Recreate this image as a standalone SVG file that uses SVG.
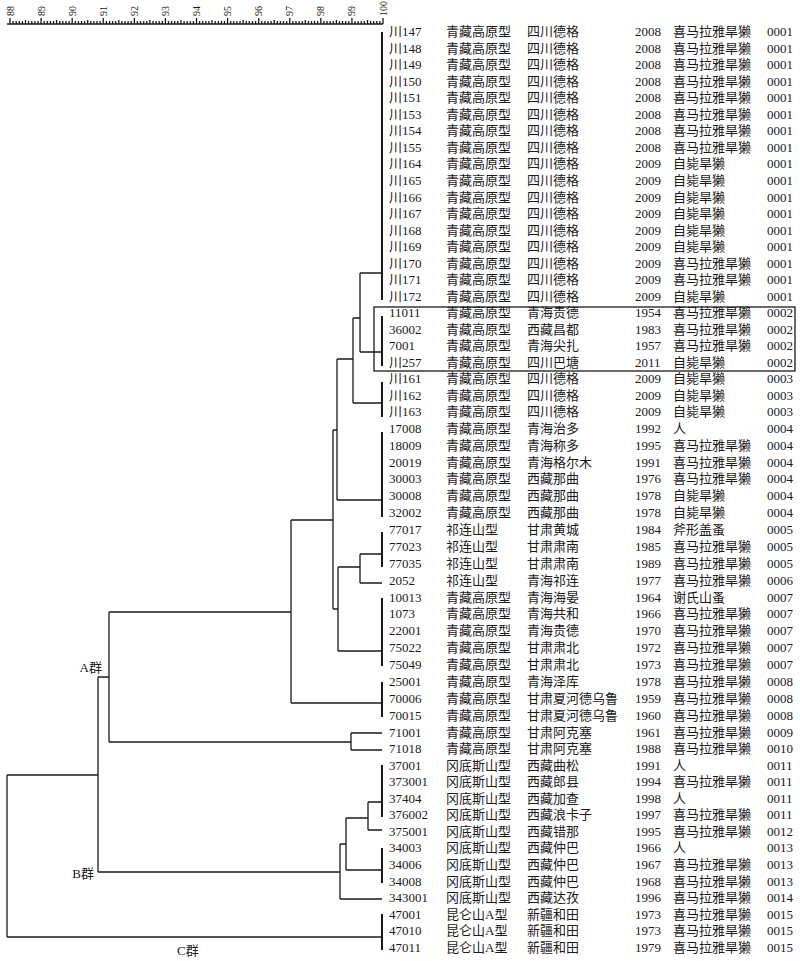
<svg xmlns="http://www.w3.org/2000/svg" width="800" height="961" viewBox="0 0 800 961">
<style>
.t{font-family:"Liberation Serif","Noto Sans CJK SC",serif;font-size:13px;fill:#1a1a1a;dominant-baseline:central}
.ax{font-family:"Liberation Serif",serif;font-size:10px;fill:#1a1a1a;dominant-baseline:central}
.ln{stroke:#1a1a1a;stroke-width:1.3;fill:none}
.bar{stroke:#1a1a1a;stroke-width:2;fill:none}
</style>
<rect width="800" height="961" fill="#fff"/>
<g id="axis">
<line class="ln" x1="7" y1="24" x2="383" y2="24"/>
<path class="ln" stroke-width="0.9" d="M10 24v-6M41.08 24v-6M72.17 24v-6M103.25 24v-6M134.33 24v-6M165.42 24v-6M196.5 24v-6M227.58 24v-6M258.67 24v-6M289.75 24v-6M320.83 24v-6M351.92 24v-6M383 24v-6"/>
<path class="ln" stroke-width="0.8" d="M13.1 24v-3M16.2 24v-3M19.3 24v-3M22.4 24v-3M25.5 24v-4M28.6 24v-3M31.8 24v-3M34.9 24v-3M38 24v-3M44.2 24v-3M47.3 24v-3M50.4 24v-3M53.5 24v-3M56.6 24v-4M59.7 24v-3M62.8 24v-3M66 24v-3M69.1 24v-3M75.3 24v-3M78.4 24v-3M81.5 24v-3M84.6 24v-3M87.7 24v-4M90.8 24v-3M93.9 24v-3M97 24v-3M100.1 24v-3M106.4 24v-3M109.5 24v-3M112.6 24v-3M115.7 24v-3M118.8 24v-4M121.9 24v-3M125 24v-3M128.1 24v-3M131.2 24v-3M137.4 24v-3M140.5 24v-3M143.7 24v-3M146.8 24v-3M149.9 24v-4M153 24v-3M156.1 24v-3M159.2 24v-3M162.3 24v-3M168.5 24v-3M171.6 24v-3M174.7 24v-3M177.8 24v-3M181 24v-4M184.1 24v-3M187.2 24v-3M190.3 24v-3M193.4 24v-3M199.6 24v-3M202.7 24v-3M205.8 24v-3M208.9 24v-3M212 24v-4M215.2 24v-3M218.3 24v-3M221.4 24v-3M224.5 24v-3M230.7 24v-3M233.8 24v-3M236.9 24v-3M240 24v-3M243.1 24v-4M246.2 24v-3M249.3 24v-3M252.5 24v-3M255.6 24v-3M261.8 24v-3M264.9 24v-3M268 24v-3M271.1 24v-3M274.2 24v-4M277.3 24v-3M280.4 24v-3M283.5 24v-3M286.6 24v-3M292.9 24v-3M296 24v-3M299.1 24v-3M302.2 24v-3M305.3 24v-4M308.4 24v-3M311.5 24v-3M314.6 24v-3M317.7 24v-3M323.9 24v-3M327 24v-3M330.2 24v-3M333.3 24v-3M336.4 24v-4M339.5 24v-3M342.6 24v-3M345.7 24v-3M348.8 24v-3M355 24v-3M358.1 24v-3M361.2 24v-3M364.3 24v-3M367.5 24v-4M370.6 24v-3M373.7 24v-3M376.8 24v-3M379.9 24v-3"/>
<text class="ax" transform="translate(10,16) rotate(-90)">88</text>
<text class="ax" transform="translate(41.08,16) rotate(-90)">89</text>
<text class="ax" transform="translate(72.17,16) rotate(-90)">90</text>
<text class="ax" transform="translate(103.25,16) rotate(-90)">91</text>
<text class="ax" transform="translate(134.33,16) rotate(-90)">92</text>
<text class="ax" transform="translate(165.42,16) rotate(-90)">93</text>
<text class="ax" transform="translate(196.5,16) rotate(-90)">94</text>
<text class="ax" transform="translate(227.58,16) rotate(-90)">95</text>
<text class="ax" transform="translate(258.67,16) rotate(-90)">96</text>
<text class="ax" transform="translate(289.75,16) rotate(-90)">97</text>
<text class="ax" transform="translate(320.83,16) rotate(-90)">98</text>
<text class="ax" transform="translate(351.92,16) rotate(-90)">99</text>
<text class="ax" transform="translate(383,16) rotate(-90)">100</text>
</g>
<g id="connectors">
<path class="bar" d="M382 32V300M382 316V366M382 382V417M382 432V517M382 532V567M382 598V666M382 682V717M382 765V817M382 848V883M382 914V950"/>
<path class="ln" d="M360 273H382M360 273V352M360 352H382M353 318H360M353 318V403M353 403H382M337 359H353M337 359V500M337 500H382M333 430H337M333 430V609M333 609H338M338 567V651M338 567H360M360 554V583M360 554H382M360 583H382M338 651H382M291 520H333M291 520V703M291 703H382M109 612H291M109 612V742M109 742H351M351 733V750M351 733H382M351 750H382M98 677H109M98 677V872M98 872H340M340 844V899M340 899H382M340 844H346M346 818V870M346 870H382M346 818H368M368 802V830M368 802H382M368 830H382M7 775H98M7 775V937M7 937H382"/>
<rect x="374" y="307" width="421" height="64" fill="none" stroke="#1a1a1a" stroke-width="1.3"/>
</g>
<g id="group-labels">
<text class="t" x="102" y="667" text-anchor="end">A群</text>
<text class="t" x="94" y="873" text-anchor="end">B群</text>
<text class="t" x="177" y="950">C群</text>
</g>
<g id="leaves">
<g id="n1"><text class="t" x="389" y="31.7">川147</text><text class="t" x="446" y="31.7">青藏高原型</text><text class="t" x="527" y="31.7">四川德格</text><text class="t" x="635" y="31.7">2008</text><text class="t" x="673" y="31.7">喜马拉雅旱獭</text><text class="t" x="767" y="31.7">0001</text></g>
<g id="n2"><text class="t" x="389" y="48.2">川148</text><text class="t" x="446" y="48.2">青藏高原型</text><text class="t" x="527" y="48.2">四川德格</text><text class="t" x="635" y="48.2">2008</text><text class="t" x="673" y="48.2">喜马拉雅旱獭</text><text class="t" x="767" y="48.2">0001</text></g>
<g id="n3"><text class="t" x="389" y="64.8">川149</text><text class="t" x="446" y="64.8">青藏高原型</text><text class="t" x="527" y="64.8">四川德格</text><text class="t" x="635" y="64.8">2008</text><text class="t" x="673" y="64.8">喜马拉雅旱獭</text><text class="t" x="767" y="64.8">0001</text></g>
<g id="n4"><text class="t" x="389" y="81.3">川150</text><text class="t" x="446" y="81.3">青藏高原型</text><text class="t" x="527" y="81.3">四川德格</text><text class="t" x="635" y="81.3">2008</text><text class="t" x="673" y="81.3">喜马拉雅旱獭</text><text class="t" x="767" y="81.3">0001</text></g>
<g id="n5"><text class="t" x="389" y="97.8">川151</text><text class="t" x="446" y="97.8">青藏高原型</text><text class="t" x="527" y="97.8">四川德格</text><text class="t" x="635" y="97.8">2008</text><text class="t" x="673" y="97.8">喜马拉雅旱獭</text><text class="t" x="767" y="97.8">0001</text></g>
<g id="n6"><text class="t" x="389" y="114.3">川153</text><text class="t" x="446" y="114.3">青藏高原型</text><text class="t" x="527" y="114.3">四川德格</text><text class="t" x="635" y="114.3">2008</text><text class="t" x="673" y="114.3">喜马拉雅旱獭</text><text class="t" x="767" y="114.3">0001</text></g>
<g id="n7"><text class="t" x="389" y="130.9">川154</text><text class="t" x="446" y="130.9">青藏高原型</text><text class="t" x="527" y="130.9">四川德格</text><text class="t" x="635" y="130.9">2008</text><text class="t" x="673" y="130.9">喜马拉雅旱獭</text><text class="t" x="767" y="130.9">0001</text></g>
<g id="n8"><text class="t" x="389" y="147.4">川155</text><text class="t" x="446" y="147.4">青藏高原型</text><text class="t" x="527" y="147.4">四川德格</text><text class="t" x="635" y="147.4">2008</text><text class="t" x="673" y="147.4">喜马拉雅旱獭</text><text class="t" x="767" y="147.4">0001</text></g>
<g id="n9"><text class="t" x="389" y="163.9">川164</text><text class="t" x="446" y="163.9">青藏高原型</text><text class="t" x="527" y="163.9">四川德格</text><text class="t" x="635" y="163.9">2009</text><text class="t" x="673" y="163.9">自毙旱獭</text><text class="t" x="767" y="163.9">0001</text></g>
<g id="n10"><text class="t" x="389" y="180.4">川165</text><text class="t" x="446" y="180.4">青藏高原型</text><text class="t" x="527" y="180.4">四川德格</text><text class="t" x="635" y="180.4">2009</text><text class="t" x="673" y="180.4">自毙旱獭</text><text class="t" x="767" y="180.4">0001</text></g>
<g id="n11"><text class="t" x="389" y="197">川166</text><text class="t" x="446" y="197">青藏高原型</text><text class="t" x="527" y="197">四川德格</text><text class="t" x="635" y="197">2009</text><text class="t" x="673" y="197">自毙旱獭</text><text class="t" x="767" y="197">0001</text></g>
<g id="n12"><text class="t" x="389" y="213.5">川167</text><text class="t" x="446" y="213.5">青藏高原型</text><text class="t" x="527" y="213.5">四川德格</text><text class="t" x="635" y="213.5">2009</text><text class="t" x="673" y="213.5">自毙旱獭</text><text class="t" x="767" y="213.5">0001</text></g>
<g id="n13"><text class="t" x="389" y="230">川168</text><text class="t" x="446" y="230">青藏高原型</text><text class="t" x="527" y="230">四川德格</text><text class="t" x="635" y="230">2009</text><text class="t" x="673" y="230">自毙旱獭</text><text class="t" x="767" y="230">0001</text></g>
<g id="n14"><text class="t" x="389" y="246.5">川169</text><text class="t" x="446" y="246.5">青藏高原型</text><text class="t" x="527" y="246.5">四川德格</text><text class="t" x="635" y="246.5">2009</text><text class="t" x="673" y="246.5">自毙旱獭</text><text class="t" x="767" y="246.5">0001</text></g>
<g id="n15"><text class="t" x="389" y="263.1">川170</text><text class="t" x="446" y="263.1">青藏高原型</text><text class="t" x="527" y="263.1">四川德格</text><text class="t" x="635" y="263.1">2009</text><text class="t" x="673" y="263.1">喜马拉雅旱獭</text><text class="t" x="767" y="263.1">0001</text></g>
<g id="n16"><text class="t" x="389" y="279.6">川171</text><text class="t" x="446" y="279.6">青藏高原型</text><text class="t" x="527" y="279.6">四川德格</text><text class="t" x="635" y="279.6">2009</text><text class="t" x="673" y="279.6">喜马拉雅旱獭</text><text class="t" x="767" y="279.6">0001</text></g>
<g id="n17"><text class="t" x="389" y="296.1">川172</text><text class="t" x="446" y="296.1">青藏高原型</text><text class="t" x="527" y="296.1">四川德格</text><text class="t" x="635" y="296.1">2009</text><text class="t" x="673" y="296.1">自毙旱獭</text><text class="t" x="767" y="296.1">0001</text></g>
<g id="n18"><text class="t" x="389" y="312.6">11011</text><text class="t" x="446" y="312.6">青藏高原型</text><text class="t" x="527" y="312.6">青海贵德</text><text class="t" x="635" y="312.6">1954</text><text class="t" x="673" y="312.6">喜马拉雅旱獭</text><text class="t" x="767" y="312.6">0002</text></g>
<g id="n19"><text class="t" x="389" y="329.2">36002</text><text class="t" x="446" y="329.2">青藏高原型</text><text class="t" x="527" y="329.2">西藏昌都</text><text class="t" x="635" y="329.2">1983</text><text class="t" x="673" y="329.2">喜马拉雅旱獭</text><text class="t" x="767" y="329.2">0002</text></g>
<g id="n20"><text class="t" x="389" y="345.7">7001</text><text class="t" x="446" y="345.7">青藏高原型</text><text class="t" x="527" y="345.7">青海尖扎</text><text class="t" x="635" y="345.7">1957</text><text class="t" x="673" y="345.7">喜马拉雅旱獭</text><text class="t" x="767" y="345.7">0002</text></g>
<g id="n21"><text class="t" x="389" y="362.2">川257</text><text class="t" x="446" y="362.2">青藏高原型</text><text class="t" x="527" y="362.2">四川巴塘</text><text class="t" x="635" y="362.2">2011</text><text class="t" x="673" y="362.2">自毙旱獭</text><text class="t" x="767" y="362.2">0002</text></g>
<g id="n22"><text class="t" x="389" y="378.7">川161</text><text class="t" x="446" y="378.7">青藏高原型</text><text class="t" x="527" y="378.7">四川德格</text><text class="t" x="635" y="378.7">2009</text><text class="t" x="673" y="378.7">自毙旱獭</text><text class="t" x="767" y="378.7">0003</text></g>
<g id="n23"><text class="t" x="389" y="395.3">川162</text><text class="t" x="446" y="395.3">青藏高原型</text><text class="t" x="527" y="395.3">四川德格</text><text class="t" x="635" y="395.3">2009</text><text class="t" x="673" y="395.3">自毙旱獭</text><text class="t" x="767" y="395.3">0003</text></g>
<g id="n24"><text class="t" x="389" y="411.8">川163</text><text class="t" x="446" y="411.8">青藏高原型</text><text class="t" x="527" y="411.8">四川德格</text><text class="t" x="635" y="411.8">2009</text><text class="t" x="673" y="411.8">自毙旱獭</text><text class="t" x="767" y="411.8">0003</text></g>
<g id="n25"><text class="t" x="389" y="428.3">17008</text><text class="t" x="446" y="428.3">青藏高原型</text><text class="t" x="527" y="428.3">青海治多</text><text class="t" x="635" y="428.3">1992</text><text class="t" x="673" y="428.3">人</text><text class="t" x="767" y="428.3">0004</text></g>
<g id="n26"><text class="t" x="389" y="445.2">18009</text><text class="t" x="446" y="445.2">青藏高原型</text><text class="t" x="527" y="445.2">青海称多</text><text class="t" x="635" y="445.2">1995</text><text class="t" x="673" y="445.2">喜马拉雅旱獭</text><text class="t" x="767" y="445.2">0004</text></g>
<g id="n27"><text class="t" x="389" y="462">20019</text><text class="t" x="446" y="462">青藏高原型</text><text class="t" x="527" y="462">青海格尔木</text><text class="t" x="635" y="462">1991</text><text class="t" x="673" y="462">喜马拉雅旱獭</text><text class="t" x="767" y="462">0004</text></g>
<g id="n28"><text class="t" x="389" y="478.9">30003</text><text class="t" x="446" y="478.9">青藏高原型</text><text class="t" x="527" y="478.9">西藏那曲</text><text class="t" x="635" y="478.9">1976</text><text class="t" x="673" y="478.9">喜马拉雅旱獭</text><text class="t" x="767" y="478.9">0004</text></g>
<g id="n29"><text class="t" x="389" y="495.8">30008</text><text class="t" x="446" y="495.8">青藏高原型</text><text class="t" x="527" y="495.8">西藏那曲</text><text class="t" x="635" y="495.8">1978</text><text class="t" x="673" y="495.8">自毙旱獭</text><text class="t" x="767" y="495.8">0004</text></g>
<g id="n30"><text class="t" x="389" y="512.7">32002</text><text class="t" x="446" y="512.7">青藏高原型</text><text class="t" x="527" y="512.7">西藏那曲</text><text class="t" x="635" y="512.7">1978</text><text class="t" x="673" y="512.7">自毙旱獭</text><text class="t" x="767" y="512.7">0004</text></g>
<g id="n31"><text class="t" x="389" y="529.5">77017</text><text class="t" x="446" y="529.5">祁连山型</text><text class="t" x="527" y="529.5">甘肃黄城</text><text class="t" x="635" y="529.5">1984</text><text class="t" x="673" y="529.5">斧形盖蚤</text><text class="t" x="767" y="529.5">0005</text></g>
<g id="n32"><text class="t" x="389" y="546.4">77023</text><text class="t" x="446" y="546.4">祁连山型</text><text class="t" x="527" y="546.4">甘肃肃南</text><text class="t" x="635" y="546.4">1985</text><text class="t" x="673" y="546.4">喜马拉雅旱獭</text><text class="t" x="767" y="546.4">0005</text></g>
<g id="n33"><text class="t" x="389" y="563.3">77035</text><text class="t" x="446" y="563.3">祁连山型</text><text class="t" x="527" y="563.3">甘肃肃南</text><text class="t" x="635" y="563.3">1989</text><text class="t" x="673" y="563.3">喜马拉雅旱獭</text><text class="t" x="767" y="563.3">0005</text></g>
<g id="n34"><text class="t" x="389" y="580.2">2052</text><text class="t" x="446" y="580.2">祁连山型</text><text class="t" x="527" y="580.2">青海祁连</text><text class="t" x="635" y="580.2">1977</text><text class="t" x="673" y="580.2">喜马拉雅旱獭</text><text class="t" x="767" y="580.2">0006</text></g>
<g id="n35"><text class="t" x="389" y="597">10013</text><text class="t" x="446" y="597">青藏高原型</text><text class="t" x="527" y="597">青海海晏</text><text class="t" x="635" y="597">1964</text><text class="t" x="673" y="597">谢氏山蚤</text><text class="t" x="767" y="597">0007</text></g>
<g id="n36"><text class="t" x="389" y="613.9">1073</text><text class="t" x="446" y="613.9">青藏高原型</text><text class="t" x="527" y="613.9">青海共和</text><text class="t" x="635" y="613.9">1966</text><text class="t" x="673" y="613.9">喜马拉雅旱獭</text><text class="t" x="767" y="613.9">0007</text></g>
<g id="n37"><text class="t" x="389" y="630.8">22001</text><text class="t" x="446" y="630.8">青藏高原型</text><text class="t" x="527" y="630.8">青海贵德</text><text class="t" x="635" y="630.8">1970</text><text class="t" x="673" y="630.8">喜马拉雅旱獭</text><text class="t" x="767" y="630.8">0007</text></g>
<g id="n38"><text class="t" x="389" y="647.6">75022</text><text class="t" x="446" y="647.6">青藏高原型</text><text class="t" x="527" y="647.6">甘肃肃北</text><text class="t" x="635" y="647.6">1972</text><text class="t" x="673" y="647.6">喜马拉雅旱獭</text><text class="t" x="767" y="647.6">0007</text></g>
<g id="n39"><text class="t" x="389" y="664.5">75049</text><text class="t" x="446" y="664.5">青藏高原型</text><text class="t" x="527" y="664.5">甘肃肃北</text><text class="t" x="635" y="664.5">1973</text><text class="t" x="673" y="664.5">喜马拉雅旱獭</text><text class="t" x="767" y="664.5">0007</text></g>
<g id="n40"><text class="t" x="389" y="681.4">25001</text><text class="t" x="446" y="681.4">青藏高原型</text><text class="t" x="527" y="681.4">青海泽库</text><text class="t" x="635" y="681.4">1978</text><text class="t" x="673" y="681.4">喜马拉雅旱獭</text><text class="t" x="767" y="681.4">0008</text></g>
<g id="n41"><text class="t" x="389" y="698.3">70006</text><text class="t" x="446" y="698.3">青藏高原型</text><text class="t" x="527" y="698.3">甘肃夏河德乌鲁</text><text class="t" x="635" y="698.3">1959</text><text class="t" x="673" y="698.3">喜马拉雅旱獭</text><text class="t" x="767" y="698.3">0008</text></g>
<g id="n42"><text class="t" x="389" y="715.1">70015</text><text class="t" x="446" y="715.1">青藏高原型</text><text class="t" x="527" y="715.1">甘肃夏河德乌鲁</text><text class="t" x="635" y="715.1">1960</text><text class="t" x="673" y="715.1">喜马拉雅旱獭</text><text class="t" x="767" y="715.1">0008</text></g>
<g id="n43"><text class="t" x="389" y="732">71001</text><text class="t" x="446" y="732">青藏高原型</text><text class="t" x="527" y="732">甘肃阿克塞</text><text class="t" x="635" y="732">1961</text><text class="t" x="673" y="732">喜马拉雅旱獭</text><text class="t" x="767" y="732">0009</text></g>
<g id="n44"><text class="t" x="389" y="748.6">71018</text><text class="t" x="446" y="748.6">青藏高原型</text><text class="t" x="527" y="748.6">甘肃阿克塞</text><text class="t" x="635" y="748.6">1988</text><text class="t" x="673" y="748.6">喜马拉雅旱獭</text><text class="t" x="767" y="748.6">0010</text></g>
<g id="n45"><text class="t" x="389" y="765.1">37001</text><text class="t" x="446" y="765.1">冈底斯山型</text><text class="t" x="527" y="765.1">西藏曲松</text><text class="t" x="635" y="765.1">1991</text><text class="t" x="673" y="765.1">人</text><text class="t" x="767" y="765.1">0011</text></g>
<g id="n46"><text class="t" x="389" y="781.7">373001</text><text class="t" x="446" y="781.7">冈底斯山型</text><text class="t" x="527" y="781.7">西藏郎县</text><text class="t" x="635" y="781.7">1994</text><text class="t" x="673" y="781.7">喜马拉雅旱獭</text><text class="t" x="767" y="781.7">0011</text></g>
<g id="n47"><text class="t" x="389" y="798.2">37404</text><text class="t" x="446" y="798.2">冈底斯山型</text><text class="t" x="527" y="798.2">西藏加查</text><text class="t" x="635" y="798.2">1998</text><text class="t" x="673" y="798.2">人</text><text class="t" x="767" y="798.2">0011</text></g>
<g id="n48"><text class="t" x="389" y="814.8">376002</text><text class="t" x="446" y="814.8">冈底斯山型</text><text class="t" x="527" y="814.8">西藏浪卡子</text><text class="t" x="635" y="814.8">1997</text><text class="t" x="673" y="814.8">喜马拉雅旱獭</text><text class="t" x="767" y="814.8">0011</text></g>
<g id="n49"><text class="t" x="389" y="831.4">375001</text><text class="t" x="446" y="831.4">冈底斯山型</text><text class="t" x="527" y="831.4">西藏错那</text><text class="t" x="635" y="831.4">1995</text><text class="t" x="673" y="831.4">喜马拉雅旱獭</text><text class="t" x="767" y="831.4">0012</text></g>
<g id="n50"><text class="t" x="389" y="847.9">34003</text><text class="t" x="446" y="847.9">冈底斯山型</text><text class="t" x="527" y="847.9">西藏仲巴</text><text class="t" x="635" y="847.9">1966</text><text class="t" x="673" y="847.9">人</text><text class="t" x="767" y="847.9">0013</text></g>
<g id="n51"><text class="t" x="389" y="864.5">34006</text><text class="t" x="446" y="864.5">冈底斯山型</text><text class="t" x="527" y="864.5">西藏仲巴</text><text class="t" x="635" y="864.5">1967</text><text class="t" x="673" y="864.5">喜马拉雅旱獭</text><text class="t" x="767" y="864.5">0013</text></g>
<g id="n52"><text class="t" x="389" y="881">34008</text><text class="t" x="446" y="881">冈底斯山型</text><text class="t" x="527" y="881">西藏仲巴</text><text class="t" x="635" y="881">1968</text><text class="t" x="673" y="881">喜马拉雅旱獭</text><text class="t" x="767" y="881">0013</text></g>
<g id="n53"><text class="t" x="389" y="897.6">343001</text><text class="t" x="446" y="897.6">冈底斯山型</text><text class="t" x="527" y="897.6">西藏达孜</text><text class="t" x="635" y="897.6">1996</text><text class="t" x="673" y="897.6">喜马拉雅旱獭</text><text class="t" x="767" y="897.6">0014</text></g>
<g id="n54"><text class="t" x="389" y="914.2">47001</text><text class="t" x="446" y="914.2">昆仑山A型</text><text class="t" x="527" y="914.2">新疆和田</text><text class="t" x="635" y="914.2">1973</text><text class="t" x="673" y="914.2">喜马拉雅旱獭</text><text class="t" x="767" y="914.2">0015</text></g>
<g id="n55"><text class="t" x="389" y="930.8">47010</text><text class="t" x="446" y="930.8">昆仑山A型</text><text class="t" x="527" y="930.8">新疆和田</text><text class="t" x="635" y="930.8">1973</text><text class="t" x="673" y="930.8">喜马拉雅旱獭</text><text class="t" x="767" y="930.8">0015</text></g>
<g id="n56"><text class="t" x="389" y="947.3">47011</text><text class="t" x="446" y="947.3">昆仑山A型</text><text class="t" x="527" y="947.3">新疆和田</text><text class="t" x="635" y="947.3">1979</text><text class="t" x="673" y="947.3">喜马拉雅旱獭</text><text class="t" x="767" y="947.3">0015</text></g>
</g>
</svg>
